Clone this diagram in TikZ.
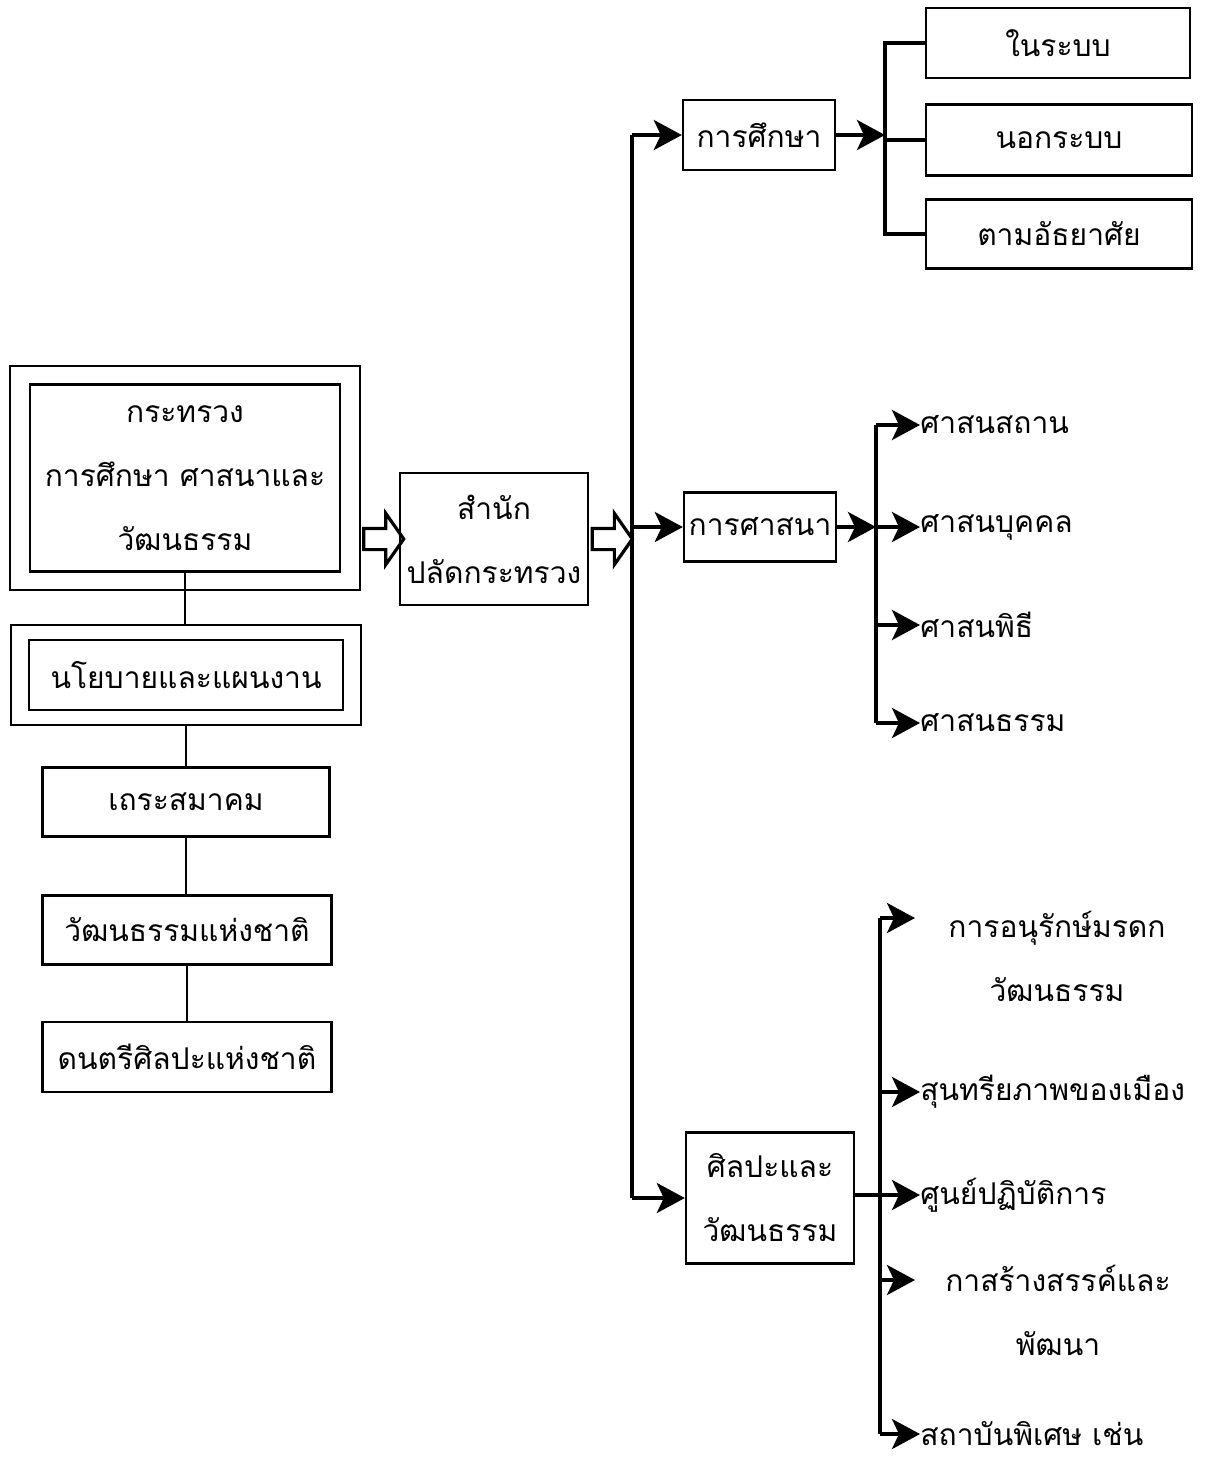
\documentclass[tikz,border=0pt]{standalone}
\usepackage{fontspec}
\newfontfamily\thaifont[Script=Thai]{Loma}
\usetikzlibrary{arrows.meta,shapes.arrows}
\begin{document}
\begin{tikzpicture}[x=0.5pt,y=-0.5pt,
   every node/.style={font=\thaifont\fontsize{15}{32}\selectfont},
   box/.style={draw,line width=1.2pt,align=center,inner sep=0pt},
   leaf/.style={anchor=west,inner sep=0pt},
   twoline/.style={align=center,inner sep=0pt},
   link/.style={line width=1pt},
   bus/.style={line width=1.8pt},
   feed/.style={line width=1.8pt,-{Stealth[length=14pt,width=15pt,inset=3.5pt]}},
   fatarrow/.style={single arrow,draw,line width=1.6pt,inner xsep=0pt,
      inner ysep=4.5pt,minimum height=20pt,single arrow head extend=7.5pt,
      single arrow tip angle=110}]

\fill[white] (0,0) rectangle (1205,1458);

% ministry and the units under it
\node[box,minimum width=175pt,minimum height=112pt] (minout) at (185,478) {};
\node[box,minimum width=155pt,minimum height=93.5pt] (mini) at (185,478)
   {กระทรวง\\การศึกษา ศาสนาและ\\วัฒนธรรม};
\node[box,minimum width=175pt,minimum height=50pt] (planout) at (186,675) {};
\node[box,minimum width=157pt,minimum height=35pt] (plan) at (186,675) {นโยบายและแผนงาน};
\node[box,minimum width=143.5pt,minimum height=34.5pt] (thera) at (186,802) {เถระสมาคม};
\node[box,minimum width=144.5pt,minimum height=34.5pt] (natcult) at (187,930) {วัฒนธรรมแห่งชาติ};
\node[box,minimum width=144.5pt,minimum height=35pt] (music) at (187,1057) {ดนตรีศิลปะแห่งชาติ};

\draw[link] (mini.south) -- (mini.south |- planout.north);
\draw[link] (planout.south) -- (thera.north);
\draw[link] (thera.south) -- (thera.south |- natcult.north);
\draw[link] (natcult.south) -- (music.north);

% permanent secretary
\node[box,minimum width=94pt,minimum height=66pt] (office) at (494,539) {สำนัก\\ปลัดกระทรวง};
\path (minout.east |- office) -- (office.west) node[midway,fatarrow] (push1) {};
\coordinate (trunktop) at (632,135);
\coordinate (trunkbot) at (632,1198);
\path (office.east) -- (office.east -| trunktop) node[midway,xshift=-1pt,fatarrow] (push2) {};

% three departments
\node[box,minimum width=76pt,minimum height=35pt] (edu) at (759,135) {การศึกษา};
\node[box,minimum width=76pt,minimum height=34.5pt] (rel) at (760,527) {การศาสนา};
\node[box,minimum width=84pt,minimum height=65.5pt] (art) at (770,1198) {ศิลปะและ\\วัฒนธรรม};

\draw[bus] (trunktop) -- (trunkbot);
\draw[feed] (trunktop) -- (edu.west);
\draw[feed] (rel.west -| trunktop) -- (rel.west);
\draw[feed] (trunkbot) -- (art.west);

% education
\node[box,minimum width=132pt,minimum height=35pt] (formal) at (1058,43) {ในระบบ};
\node[box,minimum width=133pt,minimum height=35.5pt] (nonformal) at (1059,140) {นอกระบบ};
\node[box,minimum width=133pt,minimum height=34.5pt] (informal) at (1059,234) {ตามอัธยาศัย};
\coordinate (eduhub) at (885,135);
\draw[feed] (edu.east) -- (eduhub);
\draw[bus] (formal.west) -| (eduhub) |- (informal.west);
\draw[bus] (eduhub |- nonformal.west) -- (nonformal.west);

% religion
\node[leaf] (place) at (920,425) {ศาสนสถาน};
\node[leaf] (person) at (920,527) {ศาสนบุคคล};
\node[leaf] (rite) at (920,625) {ศาสนพิธี};
\node[leaf] (dharma) at (920,723) {ศาสนธรรม};
\coordinate (relhub) at (876,527);
\draw[bus] (relhub |- place) -- (relhub |- dharma);
\draw[feed] (rel.east) -- (relhub);
\draw[feed] (relhub |- place) -- (place.west);
\draw[feed] (relhub) -- (person.west);
\draw[feed] (relhub |- rite) -- (rite.west);
\draw[feed] (relhub |- dharma) -- (dharma.west);

% arts and culture
\node[twoline] (heritage) at (1057,956) {การอนุรักษ์มรดก\\วัฒนธรรม};
\node[leaf] (aesthetic) at (920,1092) {สุนทรียภาพของเมือง};
\node[leaf] (practice) at (920,1195) {ศูนย์ปฏิบัติการ};
\node[twoline] (create) at (1058,1310) {กาสร้างสรรค์และ\\พัฒนา};
\node[leaf] (special) at (920,1434) {สถาบันพิเศษ เช่น};
\coordinate (arthub) at (880,1198);
\coordinate (tipA) at (915,918);
\coordinate (tipD) at (915,1280);
\draw[bus] (arthub |- tipA) -- (arthub |- special);
\draw[bus] (art.east |- practice) -- (arthub |- practice);
\draw[feed] (arthub |- tipA) -- (tipA);
\draw[feed] (arthub |- aesthetic) -- (aesthetic.west);
\draw[feed] (arthub |- practice) -- (practice.west);
\draw[feed] (arthub |- tipD) -- (tipD);
\draw[feed] (arthub |- special) -- (special.west);

\end{tikzpicture}
\end{document}
